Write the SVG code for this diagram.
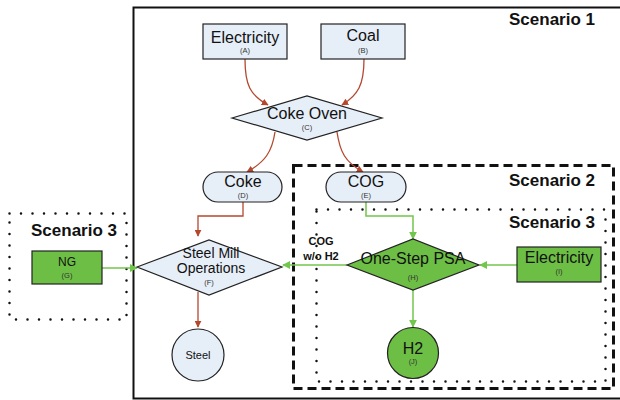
<svg xmlns="http://www.w3.org/2000/svg" width="620" height="400" viewBox="0 0 620 400">
<defs>
<marker id="ar" viewBox="0 0 10 10" refX="9" refY="5" markerWidth="7" markerHeight="7" markerUnits="userSpaceOnUse" orient="auto"><path d="M0,0 L10,5 L0,10 z" fill="#B5472E"/></marker>
<marker id="ag" viewBox="0 0 10 10" refX="9" refY="5" markerWidth="8" markerHeight="8" markerUnits="userSpaceOnUse" orient="auto"><path d="M0,0 L10,5 L0,10 z" fill="#72C64B"/></marker>
</defs>
<style>
.b{fill:#E6EEF8;stroke:#222;stroke-width:1.2}
.g{fill:#6DBE45;stroke:#222;stroke-width:1.2}
.t{font-family:"Liberation Sans",Arial,sans-serif;fill:#111;text-anchor:middle}
.big{font-size:16px}
.sm{font-size:7.5px;fill:#333}
.sc{font-family:"Liberation Sans",Arial,sans-serif;font-weight:bold;font-size:17px;fill:#111;text-anchor:end}
.r{fill:none;stroke:#B5472E;stroke-width:1.3;marker-end:url(#ar)}
.gl{fill:none;stroke:#72C64B;stroke-width:1.5;marker-end:url(#ag)}
</style>
<g id="scenario1">
<rect x="133.5" y="7.5" width="500" height="391" fill="none" stroke="#111" stroke-width="2"/>
<text class="sc" x="595" y="25">Scenario 1</text>
</g>
<g id="scenario2">
<rect x="293.5" y="165.5" width="320" height="223" fill="none" stroke="#111" stroke-width="3" stroke-dasharray="9,5"/>
<text class="sc" x="595" y="186">Scenario 2</text>
</g>
<g id="scenario3-right">
<rect x="316.5" y="209.5" width="289" height="172" fill="none" stroke="#111" stroke-width="2.5" stroke-dasharray="0,11.5" stroke-linecap="round"/>
<text class="sc" x="595" y="228">Scenario 3</text>
</g>
<g id="scenario3-left">
<rect x="9.5" y="213.5" width="117" height="106" fill="none" stroke="#111" stroke-width="2.5" stroke-dasharray="0,11.5" stroke-linecap="round"/>
<text class="sc" x="117" y="236">Scenario 3</text>
</g>
<g id="connectors">
<path class="r" d="M245,59 C245,85 250,95 268,105"/>
<path class="r" d="M364,59 C364,85 358,95 342,105"/>
<path class="r" d="M275,132 C272,152 265,162 247,172"/>
<path class="r" d="M337,132 C340,152 345,162 363,172"/>
<path class="r" d="M243,202 V216 H198 V236"/>
<path class="r" d="M198,292 V327"/>
<path class="gl" d="M102,268 H137"/>
<path class="gl" d="M366,202 V216 H413 V239"/>
<path class="gl" d="M517,265 H480"/>
<path class="gl" d="M413,290 V327"/>
<path class="gl" d="M347,265 H283"/>
<text class="t" x="321" y="245" font-size="11" font-weight="bold">COG</text>
<text class="t" x="321" y="260" font-size="11" font-weight="bold">w/o H2</text>
</g>
<g id="A">
<rect class="b" x="203" y="24" width="84" height="35"/>
<text class="t big" x="245" y="43">Electricity</text>
<text class="t sm" x="245" y="53">(A)</text>
</g>
<g id="B">
<rect class="b" x="321" y="24" width="84" height="35"/>
<text class="t big" x="363" y="41">Coal</text>
<text class="t sm" x="363" y="53">(B)</text>
</g>
<g id="C">
<polygon class="b" points="232,118 307,96 382,118 307,140"/>
<text class="t big" x="307" y="119">Coke Oven</text>
<text class="t sm" x="307" y="130">(C)</text>
</g>
<g id="D">
<rect class="b" x="203" y="172" width="79" height="30" rx="15"/>
<text class="t big" x="243" y="187">Coke</text>
<text class="t sm" x="243" y="198">(D)</text>
</g>
<g id="E">
<rect class="b" x="326" y="172" width="80" height="30" rx="15"/>
<text class="t big" x="366" y="187">COG</text>
<text class="t sm" x="366" y="198">(E)</text>
</g>
<g id="F">
<polygon class="b" points="137,267 209,240 282,267 209,295"/>
<text class="t" x="211" y="258" font-size="14">Steel Mill</text>
<text class="t" x="211" y="273" font-size="14">Operations</text>
<text class="t sm" x="209" y="285">(F)</text>
</g>
<g id="G">
<rect class="g" x="32" y="251" width="70" height="33"/>
<text class="t" x="67" y="266" font-size="12">NG</text>
<text class="t sm" x="67" y="278" font-size="8">(G)</text>
</g>
<g id="Steel">
<circle class="b" cx="198" cy="355" r="26"/>
<text class="t" x="198" y="359" font-size="11">Steel</text>
</g>
<g id="H">
<polygon class="g" points="347,265 413,239 479,265 413,290"/>
<text class="t big" x="413" y="264">One-Step PSA</text>
<text class="t sm" x="413" y="280" font-size="8">(H)</text>
</g>
<g id="I">
<rect class="g" x="517" y="247" width="84" height="35"/>
<text class="t big" x="559" y="263">Electricity</text>
<text class="t sm" x="559" y="274">(I)</text>
</g>
<g id="J">
<circle class="g" cx="413" cy="353" r="25.5"/>
<text class="t big" x="413" y="354">H2</text>
<text class="t sm" x="413" y="364">(J)</text>
</g>
</svg>
